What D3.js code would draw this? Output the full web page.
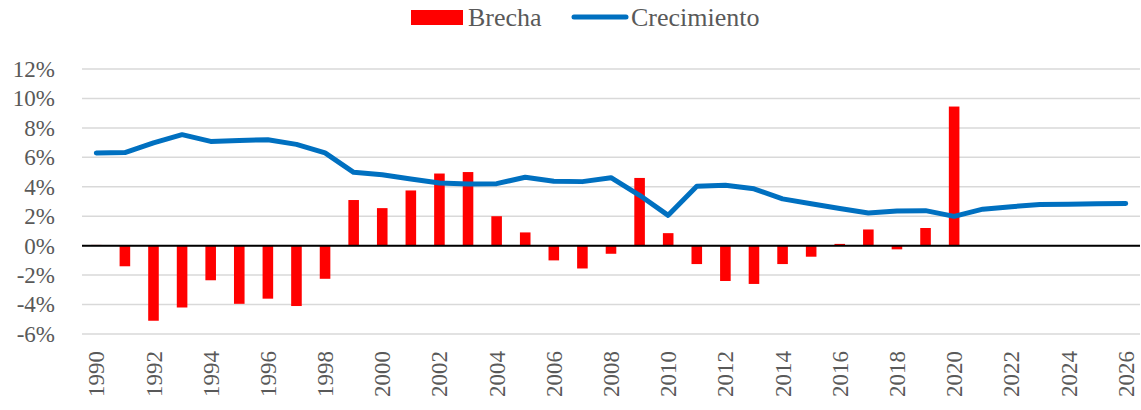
<!DOCTYPE html>
<html>
<head>
<meta charset="utf-8">
<script src="https://d3js.org/d3.v7.min.js"></script>
<style>
	body { margin: 0; background: #fff; }
	svg text { font-family: "Liberation Serif", "Times New Roman", serif !important; }
</style>
</head>
<body>
<div id="chart"></div>
<script>
// Data
var years = d3.range(1990, 2027);
var brechaYears = d3.range(1990, 2021);
var brecha = [0.05, -1.4, -5.1, -4.2, -2.35, -3.95, -3.6, -4.1, -2.25, 3.1,
	2.55, 3.75, 4.9, 5.0, 2.0, 0.9, -1.0, -1.55, -0.55, 4.6,
	0.85, -1.25, -2.4, -2.6, -1.25, -0.75, 0.12, 1.1, -0.25, 1.2,
	9.45];
var crecimiento = [6.3, 6.32, 6.98, 7.54, 7.08, 7.15, 7.2, 6.88, 6.3, 4.98,
	4.82, 4.53, 4.26, 4.19, 4.21, 4.65, 4.37, 4.35, 4.62, 3.42,
	2.06, 4.03, 4.1, 3.86, 3.18, 2.85, 2.52, 2.22, 2.36, 2.38,
	1.99, 2.48, 2.65, 2.79, 2.82, 2.85, 2.86];
var yTicks = [-6, -4, -2, 0, 2, 4, 6, 8, 10, 12];
var xLabels = d3.range(1990, 2027, 2);

var W = 1141, H = 410;
var margin = { top: 69, right: 1, bottom: 76, left: 82 };
var serif = "'Liberation Serif', 'Times New Roman', serif";

var svg = d3.select("#chart").append("svg")
	.attr("width", W)
	.attr("height", H);

var x = d3.scaleBand()
	.domain(years)
	.range([margin.left, W - margin.right]);

var y = d3.scaleLinear()
	.domain([-6, 12])
	.range([H - margin.bottom, margin.top]);

// grid
svg.append("g")
	.selectAll("line")
	.data(yTicks)
	.enter()
		.append("line")
		.attr("x1", margin.left)
		.attr("x2", W - margin.right)
		.attr("y1", function(d) { return y(d); })
		.attr("y2", function(d) { return y(d); })
		.attr("stroke", "#D9D9D9")
		.attr("stroke-width", 1.5);

// y labels
var yAxis = d3.axisLeft(y)
	.tickValues(yTicks)
	.tickSize(0)
	.tickPadding(27)
	.tickFormat(function(d) { return d + "%"; });

svg.append("g")
	.attr("transform", "translate(" + margin.left + ",0)")
	.call(yAxis)
	.attr("font-family", serif)
	.attr("font-size", 23)
	.call(function(g) { g.select(".domain").remove(); })
	.selectAll("text")
		.attr("fill", "#595959");

// bars
var barW = x.bandwidth() * 0.37;
svg.append("g")
	.selectAll("rect")
	.data(brecha)
	.enter()
		.append("rect")
		.attr("x", function(d, i) { return x(brechaYears[i]) + (x.bandwidth() - barW) / 2; })
		.attr("y", function(d) { return y(Math.max(0, d)); })
		.attr("width", barW)
		.attr("height", function(d) { return Math.abs(y(d) - y(0)); })
		.attr("fill", "#FF0000");

// zero line
svg.append("line")
	.attr("x1", margin.left)
	.attr("x2", W - margin.right)
	.attr("y1", y(0))
	.attr("y2", y(0))
	.attr("stroke", "#000")
	.attr("stroke-width", 2);

// line
var line = d3.line()
	.x(function(d, i) { return x(years[i]) + x.bandwidth() / 2; })
	.y(function(d) { return y(d); });

svg.append("path")
	.datum(crecimiento)
	.attr("d", line)
	.attr("fill", "none")
	.attr("stroke", "#0070C0")
	.attr("stroke-width", 5)
	.attr("stroke-linejoin", "round")
	.attr("stroke-linecap", "round");

// x labels (vertical)
var xAxis = d3.axisBottom(x)
	.tickValues(xLabels)
	.tickSize(0)
	.tickPadding(0);

svg.append("g")
	.attr("transform", "translate(0," + (H - margin.bottom) + ")")
	.call(xAxis)
	.attr("font-family", serif)
	.attr("font-size", 23)
	.call(function(g) { g.select(".domain").remove(); })
	.selectAll("text")
		.attr("fill", "#595959")
		.attr("text-anchor", "end")
		.attr("dy", "0.35em")
		.attr("transform", "translate(0,17) rotate(-90)")
		.attr("y", 0)
		.attr("x", 0);

// legend
var leg = svg.append("g")
	.attr("font-family", serif);
leg.append("rect")
	.attr("x", 411).attr("y", 10)
	.attr("width", 52).attr("height", 15)
	.attr("fill", "#FF0000");
leg.append("text")
	.attr("x", 468).attr("y", 26)
	.attr("font-size", 26)
	.attr("fill", "#595959")
	.text("Brecha");
leg.append("line")
	.attr("x1", 574).attr("x2", 626)
	.attr("y1", 17).attr("y2", 17)
	.attr("stroke", "#0070C0")
	.attr("stroke-width", 5)
	.attr("stroke-linecap", "round");
leg.append("text")
	.attr("x", 631).attr("y", 26)
	.attr("font-size", 26)
	.attr("fill", "#595959")
	.text("Crecimiento");
</script>
</body>
</html>
